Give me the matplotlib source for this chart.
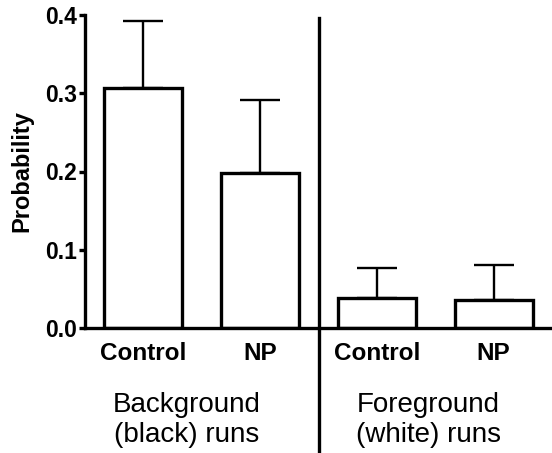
import numpy as np
import matplotlib.pyplot as plt
import matplotlib.transforms as mtransforms

plt.rcParams["font.family"] = ["Liberation Sans", "DejaVu Sans"]

# data
categories = ["Control", "NP", "Control", "NP"]
means = [0.307, 0.198, 0.038, 0.036]
sem = [0.085, 0.094, 0.039, 0.044]
groups = ["Background\n(black) runs", "Foreground\n(white) runs"]
yticks = [0.0, 0.1, 0.2, 0.3, 0.4]

fig = plt.figure(figsize=(5.52, 4.53), dpi=100)
ax = fig.add_axes([85 / 552, 1 - 328 / 453, 1 - 85 / 552, (328 - 15) / 453])

x = np.arange(len(categories))
ax.bar(x, means, width=0.67, color="white", edgecolor="black", linewidth=2.4, zorder=2)
ax.errorbar(x, means, yerr=[np.zeros(len(sem)), sem], fmt="none", ecolor="black",
            elinewidth=1.7, capsize=14.5, capthick=1.7, zorder=1)

ax.set_xlim(-0.5, 3.5)
ax.set_ylim(0, 0.4)
ax.set_yticks(yticks)
ax.set_yticklabels([f"{v:.1f}" for v in yticks], fontsize=16.5, fontweight="bold")
ax.set_xticks(x)
ax.set_xticklabels(categories, fontsize=17.5, fontweight="bold")
ax.tick_params(axis="x", length=0, pad=10)
ax.tick_params(axis="y", length=4, width=2.4, pad=2)
ax.set_ylabel("Probability", fontsize=17, fontweight="bold", labelpad=8)

for s in ["top", "right"]:
    ax.spines[s].set_visible(False)
for s in ["left", "bottom"]:
    ax.spines[s].set_linewidth(2.4)

# vertical divider between the two groups
trans = mtransforms.blended_transform_factory(ax.transData, ax.transAxes)
ax.plot([1.5, 1.5], [-0.45, 0.99], color="black", linewidth=2.4,
        transform=trans, clip_on=False)

# group labels
for gx, g in zip([0.37, 2.44], groups):
    ax.text(gx, -0.205, g, transform=trans, ha="center", va="top",
            fontsize=20, linespacing=1.2)

fig.savefig("out.png", dpi=100)
